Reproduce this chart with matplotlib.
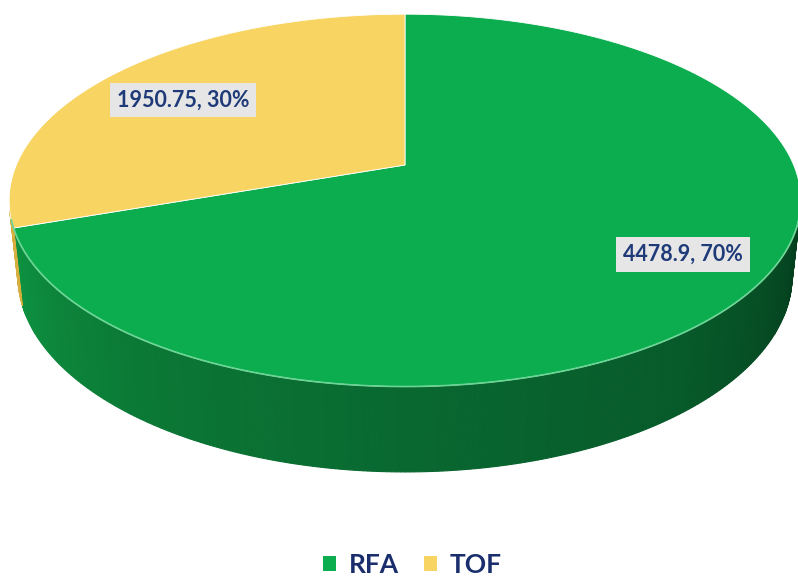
import numpy as np
import matplotlib.pyplot as plt
from matplotlib.patches import Polygon, Patch
from matplotlib.colors import LinearSegmentedColormap

# Data
categories = ["RFA", "TOF"]
values = [4478.9, 1950.75]
percents = ["70%", "30%"]
top_colors = ["#0BAD4F", "#F8D462"]

# 3D view (perspective) parameters, radius = 1
elev = np.radians(27.5)
dist = 4.67
focal = 1815.0
depth_h = 0.22
se, ce = np.sin(elev), np.cos(elev)


def project(theta, r=1.0, z=0.0):
    X = r * np.cos(theta)
    Y = r * np.sin(theta)
    d = dist + Y * ce - z * se
    return focal * X / d, focal * (Y * se + z * ce) / d


fig = plt.figure(figsize=(7.98, 5.79), dpi=100)
ax = fig.add_axes([0, 0, 1, 1])
ax.set_xlim(-405, 393)
ax.set_ylim(-414, 165)
ax.axis("off")

# slice angles: first slice clockwise from 12 o'clock
total = sum(values)
angles = []
start = np.pi / 2
for v in values:
    sweep = 2 * np.pi * v / total
    angles.append((start - sweep, start))
    start -= sweep

# visible part of the side wall
lim = np.arcsin(1 / (dist * ce))
vis_lo, vis_hi = np.pi + lim, 2 * np.pi - lim

side_cmaps = [
    LinearSegmentedColormap.from_list(
        "g", ["#0E9743", "#0B7A36", "#096830", "#075A2A", "#043F1E"]),
    LinearSegmentedColormap.from_list("y", ["#D8B040", "#B8902A"]),
]

for i, (a1, a2) in enumerate(angles):
    lo, hi = a1 % (2 * np.pi), a1 % (2 * np.pi) + (a2 - a1)
    for off in (0, 2 * np.pi, -2 * np.pi):
        s = max(lo + off, vis_lo)
        e = min(hi + off, vis_hi)
        if e <= s:
            continue
        ts = np.linspace(s, e, max(int((e - s) / 0.01), 2))
        for t0, t1 in zip(ts[:-1], ts[1:]):
            frac = ((t0 + t1) / 2 - vis_lo) / (vis_hi - vis_lo)
            tt = np.array([t0, t1])
            xt, yt = project(tt)
            xb, yb = project(tt[::-1], z=-depth_h)
            poly = np.column_stack([np.r_[xt, xb], np.r_[yt, yb]])
            col = side_cmaps[i](frac)
            ax.add_patch(Polygon(poly, closed=True, fc=col, ec=col,
                                 lw=0.8, zorder=1))

# top faces
for i, (a1, a2) in enumerate(angles):
    ts = np.linspace(a1, a2, 300)
    x, y = project(ts)
    poly = np.column_stack([np.r_[0, x], np.r_[0, y]])
    ax.add_patch(Polygon(poly, closed=True, fc=top_colors[i], ec="#FFFFFF",
                         lw=0.6, zorder=2))

# front rim highlight
ts = np.linspace(vis_lo + 0.05, vis_hi - 0.02, 300)
x, y = project(ts)
ax.plot(x, y, color="#6AD494", lw=1.2, zorder=3)

# data labels
for i, (a1, a2) in enumerate(angles):
    mid = (a1 + a2) / 2
    if i == 0:
        lx, ly = project(mid, r=0.8)
        ly += 2
    else:
        lx, ly = project(mid, r=0.76)
        ly -= 8
    ax.text(lx, ly, f"{values[i]:g}, {percents[i]}", ha="center", va="center",
            fontsize=15.5, fontweight="bold", color="#1F3A78", family="Lato",
            bbox=dict(boxstyle="square,pad=0.32", fc="#E6E6E6", ec="none"),
            zorder=5)

handles = [Patch(fc=c, ec="none") for c in top_colors]
fig.legend(handles, categories, loc="center", bbox_to_anchor=(0.517, 0.024),
           ncol=2, frameon=False, handlelength=0.49, handleheight=0.49,
           columnspacing=0.95, handletextpad=0.49, borderpad=0.1,
           prop=dict(family="Lato", weight="bold", size=19))
for t in fig.legends[0].get_texts():
    t.set_color("#1A2E6E")

fig.savefig("out.png", dpi=100)
